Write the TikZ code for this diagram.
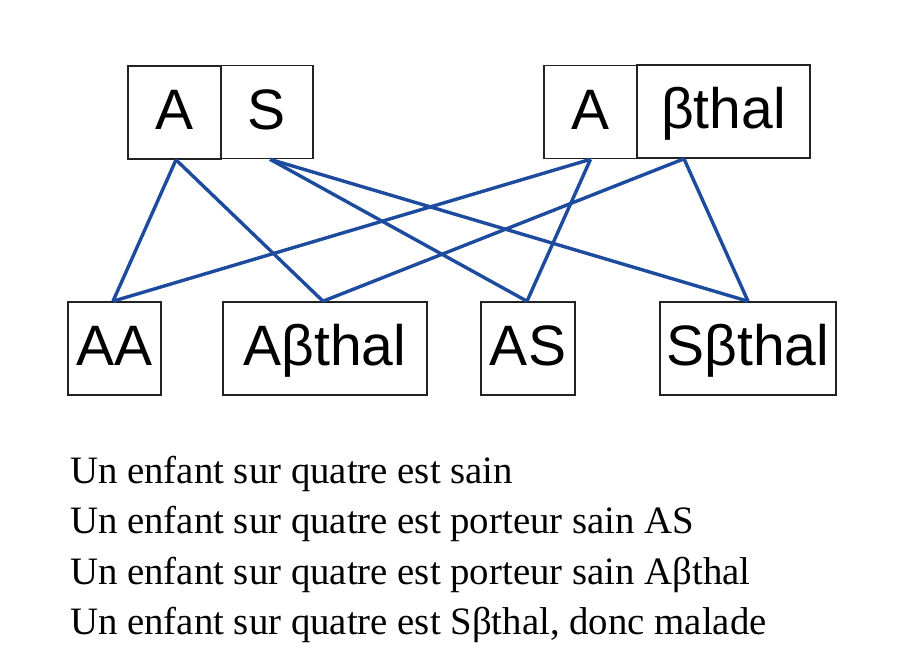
\documentclass[tikz,border=0pt]{standalone}
\usepackage{fontspec}
\setmainfont{Liberation Serif}
\newfontfamily\boxfont{Liberation Sans}
\definecolor{linkblue}{HTML}{1D4C9E}
\definecolor{boxline}{HTML}{222222}
\begin{document}
\begin{tikzpicture}[x=1pt,y=-1pt,
  allele/.style={draw=boxline, line width=1.6pt, rectangle, inner sep=0pt,
    minimum height=93pt, text height=41pt, text depth=7pt,
    font=\boxfont\fontsize{57}{60}\selectfont},
  link/.style={draw=linkblue, line width=3.4pt},
  caption/.style={anchor=base west, inner sep=0pt, font=\fontsize{38.8}{44}\selectfont}]
\useasboundingbox (0,0) rectangle (923,657);
\fill[white] (0,0) rectangle (923,657);
% parents
\node[allele, minimum width=93pt] (pA1) at (174.5,112.5) {A};
\node[allele, minimum width=92pt] (pS) at (267,112) {S};
\node[allele, minimum width=93pt] (pA2) at (590.5,112) {A};
\node[allele, minimum width=173pt] (pB) at (723.5,111.5) {βthal};
% children
\node[allele, minimum width=93pt] (cAA) at (114.5,348.5) {AA};
\node[allele, minimum width=204pt] (cAB) at (325,348.5) {Aβthal};
\node[allele, minimum width=94pt] (cAS) at (528,348.5) {AS};
\node[allele, minimum width=176pt] (cSB) at (748,348.5) {Sβthal};
% anchors
\coordinate (oA1) at ([xshift=1.5pt]pA1.south);
\coordinate (oS) at ([xshift=3pt]pS.south);
\coordinate (oA2) at (pA2.south);
\coordinate (oB) at ([xshift=-39.5pt]pB.south);
% links
\draw[link] (oA1) -- ([xshift=-1.5pt]cAA.north);
\draw[link] (oA1) -- ([xshift=-2pt]cAB.north);
\draw[link] (oS) -- ([xshift=-1pt]cAS.north);
\draw[link] (oS) -- (cSB.north);
\draw[link] (oA2) -- ([xshift=-1.5pt]cAA.north);
\draw[link] (oA2) -- ([xshift=-1pt]cAS.north);
\draw[link] (oB) -- ([xshift=-2pt]cAB.north);
\draw[link] (oB) -- (cSB.north);
% captions
\node[caption] (t1) at (70,483) {Un enfant sur quatre est sain};
\node[caption] (t2) at (70,533) {Un enfant sur quatre est porteur sain AS};
\node[caption] (t3) at (70,584) {Un enfant sur quatre est porteur sain Aβthal};
\node[caption] (t4) at (70,634) {Un enfant sur quatre est Sβthal, donc malade};
\end{tikzpicture}
\end{document}
